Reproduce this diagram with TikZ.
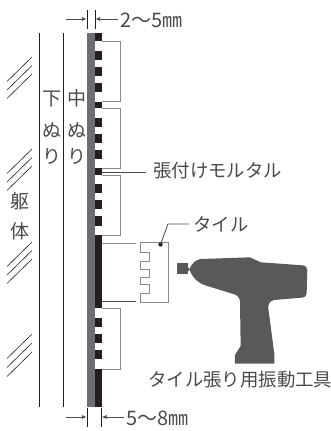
\documentclass[tikz,border=0pt]{standalone}
\usepackage{fontspec}
\setmainfont{Noto Sans CJK JP}[ItalicFont=*,BoldFont=*]
\definecolor{txt}{HTML}{4A4A4A}
\definecolor{band}{HTML}{6D6E71}
\definecolor{ink}{HTML}{231F20}
\definecolor{tileline}{HTML}{8A8A8A}
\definecolor{gun}{HTML}{58595B}
\usetikzlibrary{arrows.meta}
\tikzset{
  lab/.style={font=\fontsize{18.4}{18.4}\selectfont,text=txt,inner sep=0pt,anchor=west},
  dimlab/.style={font=\fontsize{20}{20}\selectfont,text=txt,inner sep=0pt,anchor=west},
  vlab/.style={font=\fontsize{19}{19}\selectfont,text=txt,inner sep=0pt},
  wall/.style={line width=1pt,ink},
  hatch/.style={line width=0.6pt,ink},
  tick/.style={line width=0.6pt,ink},
  dimarrow/.style={line width=0.6pt,txt,-{Latex[length=4.5pt,width=4pt]}},
  tileedge/.style={line width=0.9pt,tileline},
  glue/.style={fill=ink,draw=none},
  leader/.style={line width=0.8pt,txt}
}
\begin{document}
\begin{tikzpicture}[x=1pt,y=-1pt]
\useasboundingbox (0,0) rectangle (331,431);
% walls
\draw[wall] (39.5,33) -- (39.5,407);
\draw[wall] (63.5,33) -- (63.5,407);
\fill[band] (87,33) rectangle (95,407);
% tiles fixed
\foreach \a/\b in {41.5/101.5,108.5/168,175/235,308/369}{
  \draw[tileedge] (102,\a) -- (120.5,\a) -- (120.5,\b) -- (102,\b);
}
% mortar
\foreach \a/\b in {33/41,51/60,67/76,83/92,102/108,118/127,134/143,150/159,168/175,184/193,200/209,216/226,235/308,318/327,334/343,350/359,369/407}{
  \fill[glue] (95,\a) rectangle (102,\b);
}
% hatches
\foreach \y in {57,65.5,74,149,157.5,166,242,250.5,259,334,343,352}{
  \draw[hatch] (32,\y) -- (7,\y+24.5);
}
% vertical labels
\node[vlab] (s1) at (52,98.5) {下};
\node[vlab] (s2) at (52,130) {ぬ};
\node[vlab] (s3) at (52,156) {り};
\node[vlab] (m1) at (76.5,98.5) {中};
\node[vlab] (m2) at (76.5,130) {ぬ};
\node[vlab] (m3) at (76.5,156) {り};
\node[vlab] (k1) at (20,201) {躯};
\node[vlab] (k2) at (20,231) {体};
% detached tile
\coordinate (tt) at (136,243);
\coordinate (tb) at (136,301.5);
\coordinate (mt) at (102,243);
\coordinate (mb) at (102,301.5);
\draw[leader,tileline] (mt) -- (tt);
\draw[leader] (mb) -- (tb);
\draw[tileedge] (140,242.5) -- (168.5,242.5) -- (168.5,302) -- (140,302) -- (140,293) -- (149.5,293) -- (149.5,284) -- (140,284) -- (140,277) -- (149.5,277) -- (149.5,269) -- (140,269) -- (140,261) -- (149.5,261) -- (149.5,252) -- (140,252) -- cycle;
% labels and leaders
\node[lab] (mortar) at (153,171) {張付けモルタル};
\coordinate (mortarEnd) at (102,172);
\coordinate (mortarStart) at (146,172);
\draw[leader] (mortarEnd) -- (mortarStart);
\node[lab] (tile) at (193,224) {タイル};
\coordinate (tileDot) at (160.5,244.5);
\coordinate (tileBend) at (168,224);
\coordinate (tileEnd) at (189,224);
\fill[ink] (tileDot) circle (2.2);
\draw[leader] (tileDot) -- (tileBend) -- (tileEnd);
\node[lab] (tool) at (148,380) {タイル張り用振動工具};
% top dimension
\node[dimlab] (dimA) at (120,20) {2〜5㎜};
\coordinate (a1) at (66,19); \coordinate (a2) at (86.5,19);
\coordinate (a3) at (118,19); \coordinate (a4) at (95.5,19);
\draw[dimarrow] (a1) -- (a2);
\draw[dimarrow] (a3) -- (a4);
\draw[tick] (87,10) -- (87,29);
\draw[tick] (95,10) -- (95,29);
% bottom dimension
\node[dimlab] (dimB) at (126,418) {5〜8㎜};
\coordinate (b1) at (66,417); \coordinate (b2) at (86.5,417);
\coordinate (b3) at (124,417); \coordinate (b4) at (102,417);
\draw[dimarrow] (b1) -- (b2);
\draw[dimarrow] (b3) -- (b4);
\draw[tick] (87.5,408) -- (87.5,427);
\draw[tick] (101.5,408) -- (101.5,427);
% tool
\begin{scope}[shift={(130,200)},x=0.3333pt,y=-0.3333pt]
\fill[gun] (142,188) rectangle (175,222);
\fill[gun] (172,200) -- (180,208) -- (172,216) -- cycle;
\fill[gun] (178,208) .. controls (185,192) and (195,180) .. (212,177)
  -- (360,172) -- (392,187) -- (518,196) .. controls (528,197) and (532,203) .. (532,212)
  -- (530,278) .. controls (530,288) and (525,292) .. (515,293)
  -- (432,300) .. controls (420,303) and (414,312) .. (415,325)
  -- (433,462) -- (433,491) -- (315,491) -- (315,465) -- (332,438)
  -- (330,305) .. controls (329,292) and (322,285) .. (310,282)
  -- (232,258) .. controls (205,250) and (188,235) .. cycle;
\end{scope}
\end{tikzpicture}
\end{document}
